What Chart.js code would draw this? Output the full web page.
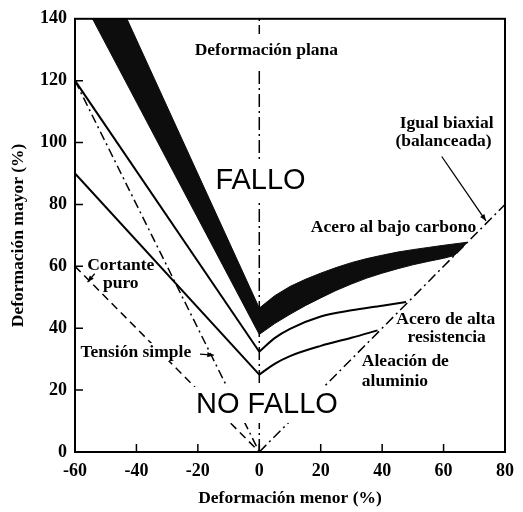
<!DOCTYPE html>
<html lang="es">
<head>
<meta charset="utf-8">
<title>Diagrama límite de conformado</title>
<script src="https://cdn.jsdelivr.net/npm/chart.js@4.4.0/dist/chart.umd.min.js"></script>
<style>
  html, body { margin: 0; padding: 0; background: #ffffff; }
  #wrap { width: 523px; height: 512px; }
</style>
</head>
<body>
<div id="wrap"><canvas id="fld" width="523" height="512"></canvas></div>
<script>
// Axis ticks (deformación menor / mayor, %)
const xTickValues = [-60, -40, -20, 0, 20, 40, 60, 80];
const yTickValues = [0, 20, 40, 60, 80, 100, 120, 140];

// Acero al bajo carbono: forming-limit band (lower and upper edges)
const bandLeftLowerX  = [-54.3, 0];
const bandLeftLowerY  = [140, 38];
const bandLeftUpperX  = [-43.1, 0];
const bandLeftUpperY  = [140, 46.5];
const bandRightLowerX = [0, 5, 10, 15, 20, 25, 30, 35, 40, 45, 50, 55, 60, 63.5];
const bandRightLowerY = [38, 41.5, 44.5, 47.3, 49.8, 52.2, 54.3, 56.2, 57.8, 59.2, 60.5, 61.6, 62.6, 63.5];
const bandRightUpperX = [0, 5, 10, 15, 20, 25, 30, 35, 40, 45, 50, 55, 60, 67.8];
const bandRightUpperY = [46.5, 50.5, 53.5, 55.8, 57.8, 59.6, 61.2, 62.5, 63.6, 64.6, 65.4, 66.1, 66.8, 67.8];

// Acero de alta resistencia
const hsLeftX  = [-60, 0];
const hsLeftY  = [120, 32.4];
const hsRightX = [0, 5, 10, 20, 30, 40, 47.8];
const hsRightY = [32.4, 36.8, 39.8, 43.8, 45.8, 47.3, 48.5];

// Aleación de aluminio
const alLeftX  = [-60, 0];
const alLeftY  = [90, 25];
const alRightX = [0, 5, 10, 20, 30, 38.5];
const alRightY = [25, 28.5, 31.0, 34.3, 36.9, 39.3];

// Strain paths: cortante puro, tensión simple, igual biaxial, deformación plana
const shearX    = [-60, 0];
const shearY    = [60, 0];
const uniaxialX = [-60, 0];
const uniaxialY = [120, 0];
const biaxialX  = [0, 80];
const biaxialY  = [0, 80];
const planeX    = [0, 0];
const planeY    = [0, 140];

const pts = (xs, ys) => xs.map((x, i) => ({ x: x, y: ys[i] }));
const rev = a => a.slice().reverse();

// closed outline of the band: lower edge left→right, upper edge right→left
const bandOutline = []
  .concat(pts(bandLeftLowerX, bandLeftLowerY))
  .concat(pts(bandRightLowerX, bandRightLowerY).slice(1))
  .concat(rev(pts(bandRightUpperX, bandRightUpperY)))
  .concat(rev(pts(bandLeftUpperX, bandLeftUpperY)).slice(1));

const serif = "'Liberation Serif', 'DejaVu Serif', serif";
const sans  = "'Liberation Sans', Arial, sans-serif";
const INK = '#000000';

const lineDs = (data, opts) => Object.assign({
  data: data, borderColor: INK, borderWidth: 2, fill: false,
  pointRadius: 0, tension: 0
}, opts || {});

// Text labels, arrows, inward ticks and frame
const annotate = {
  id: 'annotate',
  afterDatasetsDraw(chart) {
    const { ctx, chartArea: a, scales: { x, y } } = chart;
    const X = v => x.getPixelForValue(v);
    const Y = v => y.getPixelForValue(v);
    ctx.save();

    // inward tick marks
    ctx.strokeStyle = INK;
    ctx.lineWidth = 1.5;
    ctx.beginPath();
    xTickValues.slice(1, -1).forEach(v => {
      ctx.moveTo(X(v), a.bottom); ctx.lineTo(X(v), a.bottom - 8);
    });
    yTickValues.slice(1, -1).forEach(v => {
      ctx.moveTo(a.left, Y(v)); ctx.lineTo(a.left + 8, Y(v));
    });
    ctx.stroke();

    // frame
    ctx.lineWidth = 2;
    ctx.strokeRect(a.left, a.top, a.right - a.left, a.bottom - a.top);

    const label = (text, vx, vy, font, align, bg) => {
      ctx.font = font;
      ctx.textAlign = align || 'center';
      ctx.textBaseline = 'middle';
      const px = X(vx), py = Y(vy);
      if (bg) {
        const w = ctx.measureText(text).width;
        const left = align === 'left' ? px : px - w / 2;
        ctx.fillStyle = '#ffffff';
        ctx.fillRect(left - bg[0], py - bg[1], w + 2 * bg[0], 2 * bg[1]);
      }
      ctx.fillStyle = INK;
      ctx.fillText(text, px, py);
    };
    const arrow = (x0, y0, x1, y1) => {
      const p0 = [X(x0), Y(y0)], p1 = [X(x1), Y(y1)];
      const ang = Math.atan2(p1[1] - p0[1], p1[0] - p0[0]);
      ctx.strokeStyle = INK;
      ctx.lineWidth = 1.3;
      ctx.beginPath();
      ctx.moveTo(p0[0], p0[1]);
      ctx.lineTo(p1[0], p1[1]);
      ctx.stroke();
      const L = 7, W = 0.38;
      ctx.fillStyle = INK;
      ctx.beginPath();
      ctx.moveTo(p1[0], p1[1]);
      ctx.lineTo(p1[0] - L * Math.cos(ang - W), p1[1] - L * Math.sin(ang - W));
      ctx.lineTo(p1[0] - L * Math.cos(ang + W), p1[1] - L * Math.sin(ang + W));
      ctx.closePath();
      ctx.fill();
    };

    const f17 = 'bold 17.5px ' + serif;
    label('Deformación plana', 2.3, 129.6, f17, 'center', [3, 17]);
    label('FALLO', 0.4, 87.7, '29px ' + sans, 'center', [3, 21]);
    label('NO FALLO', 2.5, 15.2, '29px ' + sans, 'center', [3, 18]);
    label('Igual biaxial', 61.0, 106.1, f17);
    label('(balanceada)', 60.0, 100.3, f17);
    arrow(59.4, 95.5, 73.8, 74.7);
    label('Acero al bajo carbono', 43.7, 72.5, f17);
    label('Acero de alta', 60.7, 42.9, f17);
    label('resistencia', 61.0, 37.1, f17);
    label('Aleación de', 33.4, 29.4, f17, 'left');
    label('aluminio', 33.4, 22.7, f17, 'left');
    label('Cortante', -45.1, 60.3, f17);
    label('puro', -45.1, 54.5, f17);
    arrow(-53.6, 57.6, -55.9, 54.9);
    label('Tensión simple', -40.2, 32.3, f17, 'center', [2, 9]);
    arrow(-19.3, 31.6, -14.8, 31.3);

    ctx.restore();
  }
};

new Chart(document.getElementById('fld'), {
  type: 'line',
  data: {
    datasets: [
      lineDs(bandOutline, { fill: 'shape', backgroundColor: '#0d0d0d', borderColor: '#0d0d0d', borderWidth: 1 }),
      lineDs(pts(hsLeftX, hsLeftY)),
      lineDs(pts(hsRightX, hsRightY), { cubicInterpolationMode: 'monotone' }),
      lineDs(pts(alLeftX, alLeftY)),
      lineDs(pts(alRightX, alRightY), { cubicInterpolationMode: 'monotone' }),
      lineDs(pts(shearX, shearY), { borderWidth: 1.5, borderDash: [8, 5] }),
      lineDs(pts(uniaxialX, uniaxialY), { borderWidth: 1.5, borderDash: [9, 4, 2, 4] }),
      lineDs(pts(biaxialX, biaxialY), { borderWidth: 1.5, borderDash: [10, 4, 2, 4] }),
      lineDs(pts(planeX, planeY), { borderWidth: 1.5, borderDash: [13, 4, 2, 4] })
    ]
  },
  options: {
    responsive: false,
    animation: false,
    devicePixelRatio: 1,
    layout: { padding: { left: 0, right: 11, top: 18, bottom: 0 } },
    plugins: { legend: { display: false }, tooltip: { enabled: false } },
    elements: { point: { radius: 0 } },
    scales: {
      x: {
        type: 'linear', min: -60, max: 80,
        afterBuildTicks: s => { s.ticks = xTickValues.map(v => ({ value: v })); },
        afterFit: s => { s.height = 60; },
        grid: { display: false, drawTicks: false },
        border: { display: true, color: INK, width: 2 },
        ticks: { padding: 9, color: INK, autoSkip: false, maxRotation: 0,
                 font: { family: serif, size: 18, weight: 'bold' },
                 callback: v => String(v) },
        title: { display: true, text: 'Deformación menor (%)', color: INK,
                 font: { family: serif, size: 17.5, weight: 'bold' },
                 padding: { top: 0, bottom: 3 } }
      },
      y: {
        type: 'linear', min: 0, max: 140,
        afterBuildTicks: s => { s.ticks = yTickValues.map(v => ({ value: v })); },
        afterFit: s => { s.width = 75; },
        grid: { display: false, drawTicks: false },
        border: { display: true, color: INK, width: 2 },
        ticks: { padding: 8, color: INK, autoSkip: false,
                 font: { family: serif, size: 18, weight: 'bold' },
                 callback: v => String(v) },
        title: { display: true, text: 'Deformación mayor (%)', color: INK,
                 font: { family: serif, size: 17.5, weight: 'bold' },
                 padding: { top: 8, bottom: 0 } }
      }
    }
  },
  plugins: [annotate]
});
</script>
</body>
</html>
